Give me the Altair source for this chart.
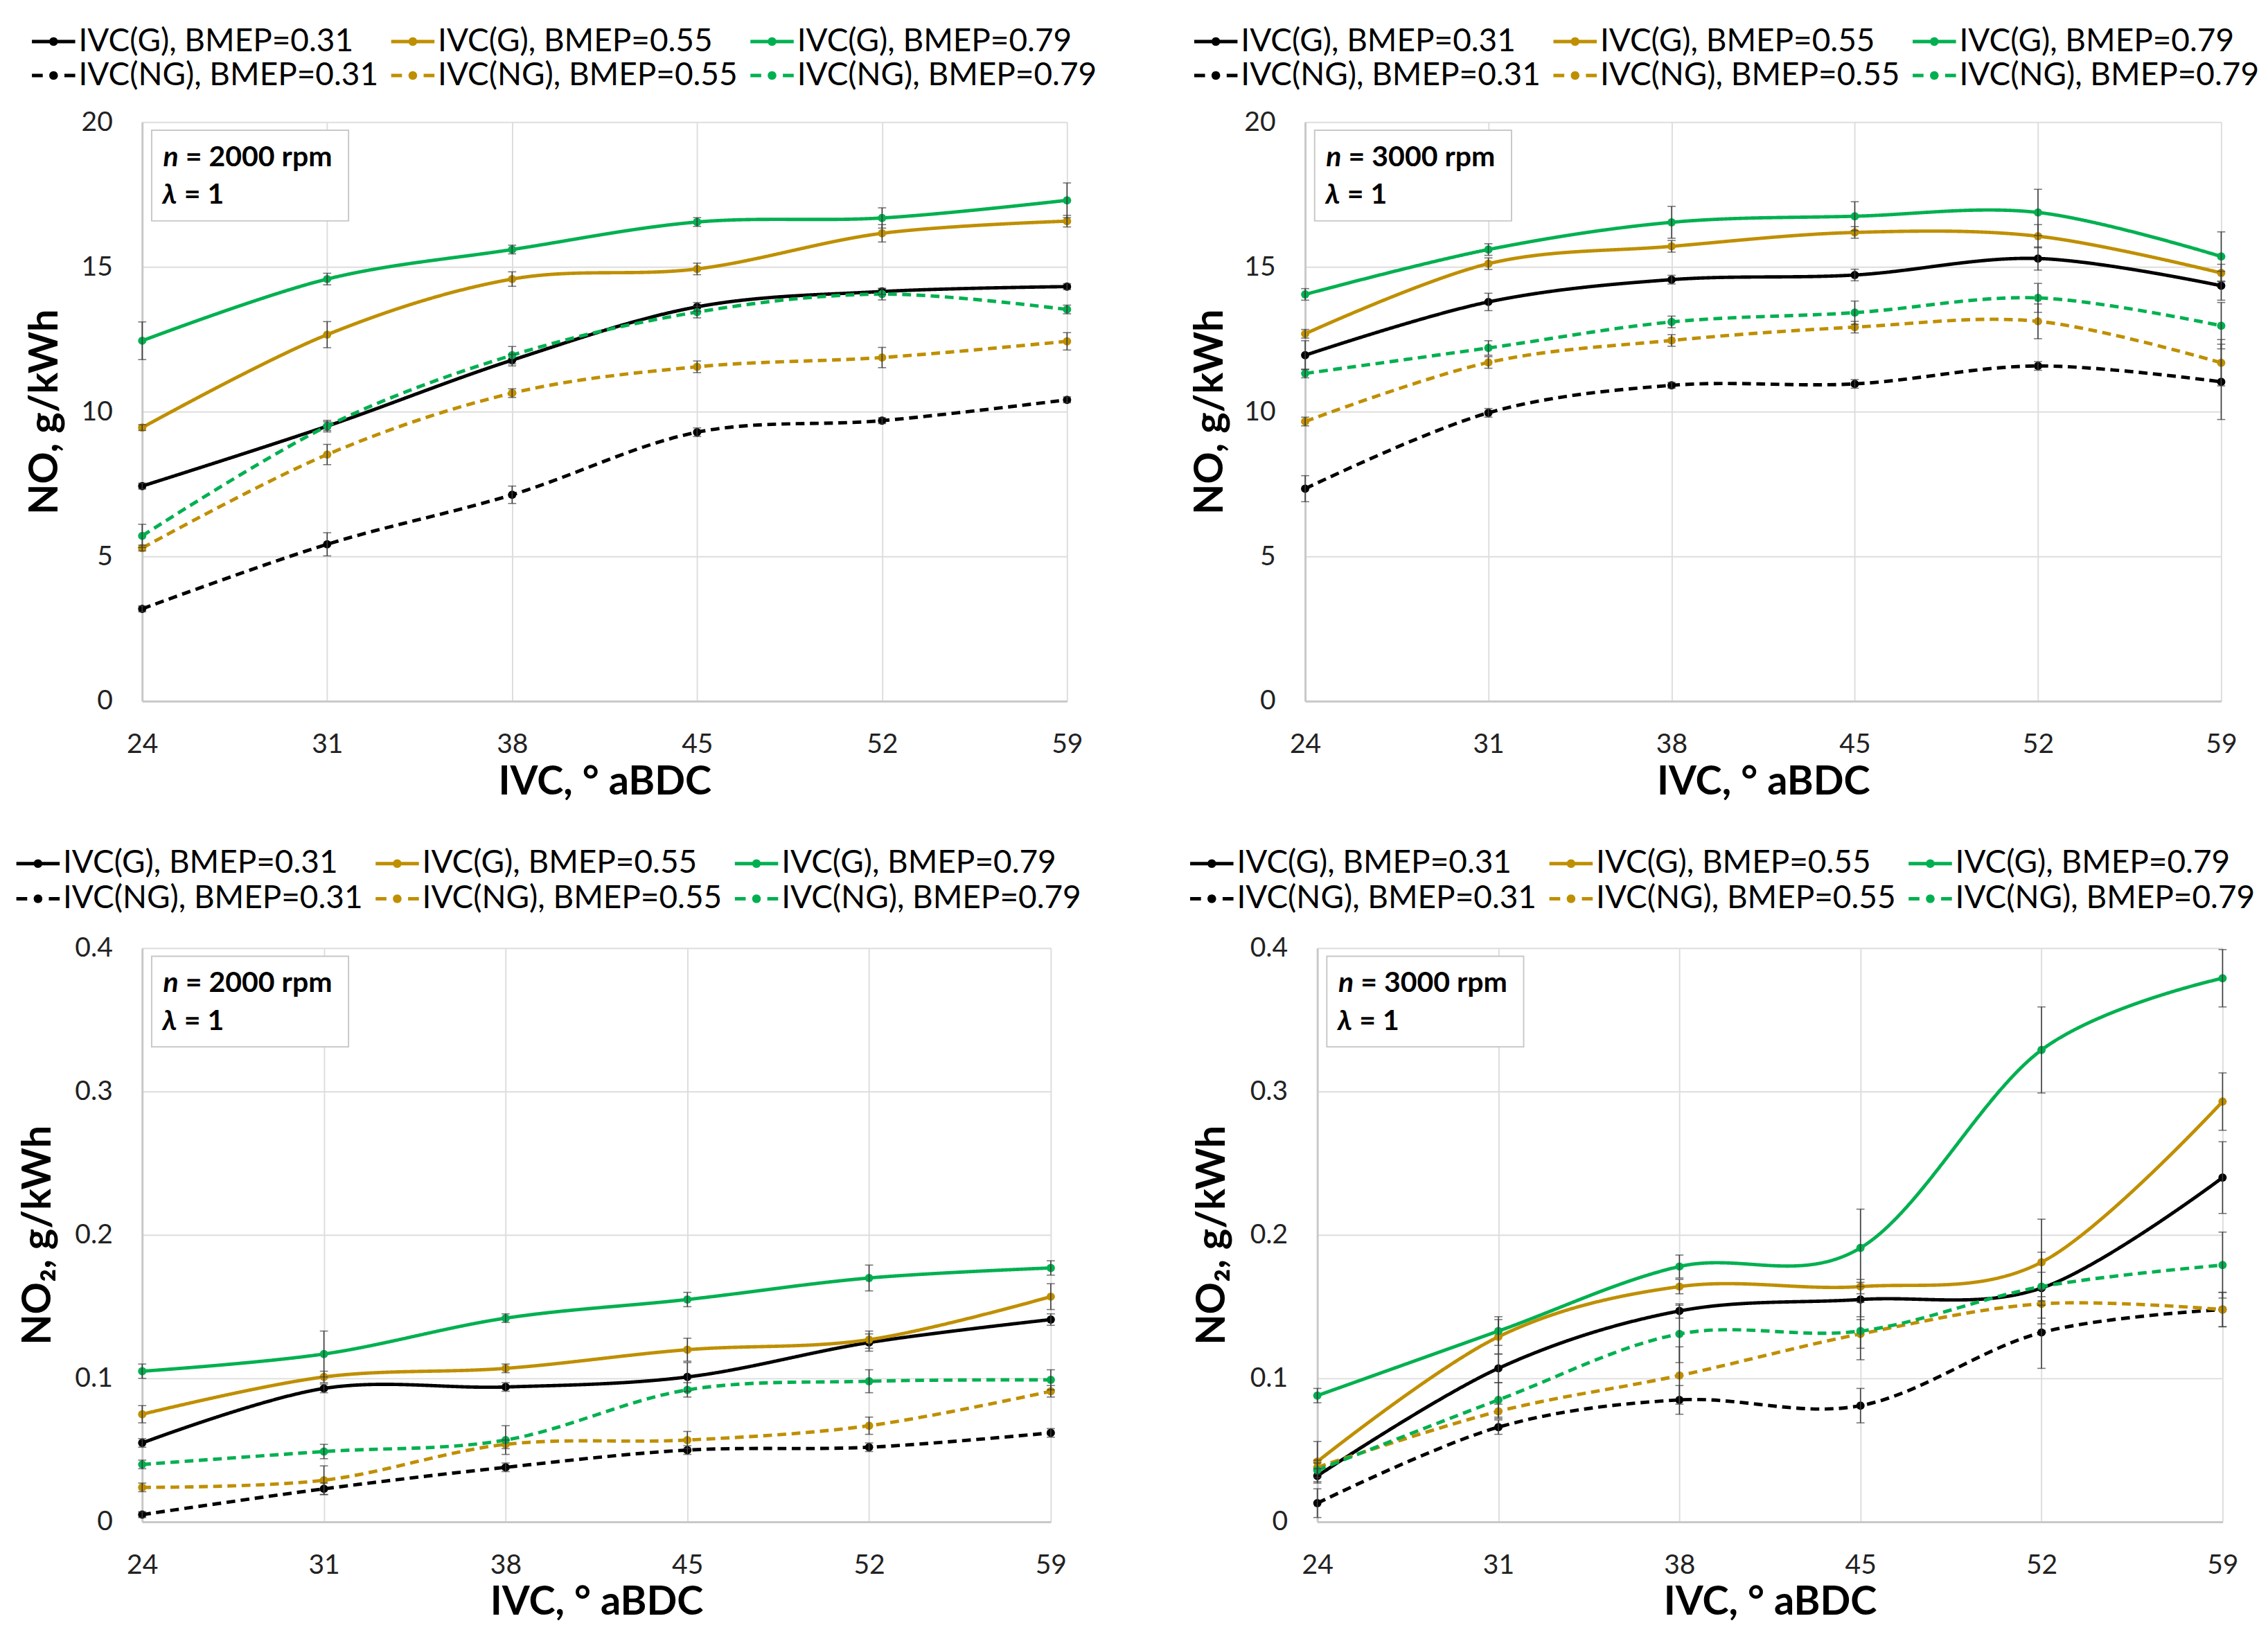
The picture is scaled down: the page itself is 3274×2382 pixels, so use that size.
import altair as alt
import pandas as pd

# ---------------- data ----------------
x_ivc = [24, 31, 38, 45, 52, 59]
series_names = [
    "IVC(G), BMEP=0.31", "IVC(G), BMEP=0.55", "IVC(G), BMEP=0.79",
    "IVC(NG), BMEP=0.31", "IVC(NG), BMEP=0.55", "IVC(NG), BMEP=0.79",
]
series_colors = ["#000000", "#BF8F00", "#00B050", "#000000", "#BF8F00", "#00B050"]
series_dashes = [[1, 0], [1, 0], [1, 0], [13, 8], [13, 8], [13, 8]]
legend_cols = [0, 1, 2, 0, 1, 2]
legend_rows = [0, 0, 0, 1, 1, 1]

# NO, n = 2000 rpm
no_2000_g031 = [7.43, 9.50, 11.78, 13.62, 14.15, 14.32]
no_2000_g055 = [9.45, 12.66, 14.58, 14.93, 16.16, 16.58]
no_2000_g079 = [12.45, 14.58, 15.60, 16.55, 16.69, 17.30]
no_2000_ng031 = [3.19, 5.42, 7.13, 9.29, 9.69, 10.41]
no_2000_ng055 = [5.29, 8.52, 10.64, 11.55, 11.87, 12.43]
no_2000_ng079 = [5.71, 9.50, 11.95, 13.44, 14.06, 13.53]
no_2000_err_g031 = [0.10, 0.15, 0.20, 0.15, 0.10, 0.10]
no_2000_err_g055 = [0.10, 0.45, 0.25, 0.20, 0.30, 0.20]
no_2000_err_g079 = [0.65, 0.20, 0.15, 0.15, 0.35, 0.60]
no_2000_err_ng031 = [0.10, 0.40, 0.30, 0.15, 0.10, 0.10]
no_2000_err_ng055 = [0.10, 0.35, 0.15, 0.20, 0.35, 0.30]
no_2000_err_ng079 = [0.40, 0.20, 0.30, 0.20, 0.20, 0.15]

# NO, n = 3000 rpm
no_3000_g031 = [11.95, 13.79, 14.56, 14.72, 15.29, 14.35]
no_3000_g055 = [12.69, 15.11, 15.71, 16.19, 16.06, 14.79]
no_3000_g079 = [14.05, 15.60, 16.54, 16.75, 16.88, 15.36]
no_3000_ng031 = [7.34, 9.96, 10.91, 10.96, 11.58, 11.03]
no_3000_ng055 = [9.66, 11.70, 12.46, 12.92, 13.12, 11.69]
no_3000_ng079 = [11.32, 12.20, 13.10, 13.42, 13.93, 12.97]
no_3000_err_g031 = [0.50, 0.30, 0.15, 0.20, 0.40, 0.50]
no_3000_err_g055 = [0.15, 0.20, 0.20, 0.20, 0.40, 0.30]
no_3000_err_g079 = [0.20, 0.20, 0.55, 0.50, 0.80, 0.85]
no_3000_err_ng031 = [0.45, 0.15, 0.10, 0.15, 0.15, 1.30]
no_3000_err_ng055 = [0.15, 0.20, 0.20, 0.20, 0.60, 0.80]
no_3000_err_ng079 = [0.15, 0.25, 0.20, 0.40, 0.50, 0.80]

# NO2, n = 2000 rpm
no2_2000_g031 = [0.055, 0.093, 0.094, 0.101, 0.125, 0.141]
no2_2000_g055 = [0.075, 0.101, 0.107, 0.120, 0.127, 0.157]
no2_2000_g079 = [0.105, 0.117, 0.142, 0.155, 0.170, 0.177]
no2_2000_ng031 = [0.005, 0.023, 0.038, 0.050, 0.052, 0.062]
no2_2000_ng055 = [0.024, 0.029, 0.054, 0.057, 0.067, 0.091]
no2_2000_ng079 = [0.040, 0.049, 0.057, 0.092, 0.098, 0.099]
no2_2000_err_g031 = [0.003, 0.003, 0.003, 0.010, 0.006, 0.004]
no2_2000_err_g055 = [0.006, 0.004, 0.003, 0.008, 0.006, 0.009]
no2_2000_err_g079 = [0.005, 0.016, 0.003, 0.005, 0.009, 0.005]
no2_2000_err_ng031 = [0.002, 0.004, 0.003, 0.003, 0.003, 0.003]
no2_2000_err_ng055 = [0.003, 0.010, 0.003, 0.006, 0.006, 0.004]
no2_2000_err_ng079 = [0.003, 0.005, 0.010, 0.005, 0.008, 0.007]

# NO2, n = 3000 rpm
no2_3000_g031 = [0.032, 0.107, 0.147, 0.155, 0.163, 0.240]
no2_3000_g055 = [0.042, 0.129, 0.164, 0.164, 0.181, 0.293]
no2_3000_g079 = [0.088, 0.133, 0.178, 0.191, 0.329, 0.379]
no2_3000_ng031 = [0.013, 0.066, 0.085, 0.081, 0.132, 0.148]
no2_3000_ng055 = [0.038, 0.077, 0.102, 0.131, 0.152, 0.148]
no2_3000_ng079 = [0.036, 0.085, 0.131, 0.133, 0.164, 0.179]
no2_3000_err_g031 = [0.005, 0.010, 0.005, 0.012, 0.025, 0.025]
no2_3000_err_g055 = [0.014, 0.012, 0.005, 0.005, 0.030, 0.020]
no2_3000_err_g079 = [0.005, 0.010, 0.008, 0.027, 0.030, 0.020]
no2_3000_err_ng031 = [0.010, 0.005, 0.010, 0.012, 0.025, 0.012]
no2_3000_err_ng055 = [0.005, 0.005, 0.020, 0.010, 0.010, 0.012]
no2_3000_err_ng079 = [0.005, 0.012, 0.020, 0.020, 0.010, 0.023]

no_ticks = [0, 5, 10, 15, 20]
no2_ticks = [0, 0.1, 0.2, 0.3, 0.4]
speeds = ["2000", "3000"]

# ---------------- style ----------------
FONT = "Lato"
GRID = "#DDDDDD"
DOMAIN = "#C8C8C8"
LEG_COL_W = 531

SOLID_PATH = ("M-1,-0.08H1V0.08H-1Z "
              "M0.2,0A0.2,0.2,0,1,1,-0.2,0A0.2,0.2,0,1,1,0.2,0Z")
DASH_PATH = ("M-1,-0.08H-0.5V0.08H-1Z M0.5,-0.08H1V0.08H0.5Z "
             "M0.2,0A0.2,0.2,0,1,1,-0.2,0A0.2,0.2,0,1,1,0.2,0Z")


def make_df(vals, errs):
    rows = []
    for name, v, e in zip(series_names, vals, errs):
        for xi, yi, ei in zip(x_ivc, v, e):
            rows.append({"series": name, "ivc": xi, "value": yi,
                         "lo": yi - ei, "hi": yi + ei})
    return pd.DataFrame(rows)


leg_df = pd.DataFrame({"series": series_names, "col": legend_cols, "row": legend_rows})


def panel(vals, errs, ytitle, yticks, speed, w, h, lx, ly0, ly1, tpad):
    df = make_df(vals, errs)
    base = alt.Chart(df)

    xscale = alt.Scale(domain=[24, 59], nice=False, zero=False)
    yscale = alt.Scale(domain=[yticks[0], yticks[-1]], nice=False)
    xaxis = alt.Axis(values=x_ivc, title="IVC, ° aBDC", grid=True, labelFlush=False)
    yaxis = alt.Axis(values=yticks, title=ytitle, format="~g", grid=True,
                     labelFlush=False, titlePadding=tpad)
    X = alt.X("ivc:Q", scale=xscale, axis=xaxis)

    cscale = alt.Scale(domain=series_names, range=series_colors)
    color = alt.Color("series:N", sort=series_names, scale=cscale, legend=None)
    dash = alt.StrokeDash("series:N", sort=series_names,
                          scale=alt.Scale(domain=series_names, range=series_dashes),
                          legend=None)

    lines = base.mark_line(interpolate="cardinal", strokeWidth=5).encode(
        x=X, y=alt.Y("value:Q", scale=yscale, axis=yaxis),
        color=color, strokeDash=dash, detail="series:N",
    )
    pts = base.mark_point(filled=True, size=150, opacity=1).encode(
        x=X, y=alt.Y("value:Q", scale=yscale, axis=yaxis), color=color,
    )
    err = base.mark_errorbar(ticks=True, size=12, thickness=1.6, color="#3A3A3A").encode(
        x=X, y=alt.Y("lo:Q", scale=yscale, axis=yaxis, title=ytitle), y2="hi:Q",
    )

    ann = alt.Chart(pd.DataFrame({"speed": [speed]}))
    box = ann.mark_rect(fill="white", stroke="#C8C8C8", strokeWidth=2).encode(
        x=alt.value(14), x2=alt.value(305), y=alt.value(12), y2=alt.value(146))
    t_n = ann.mark_text(font=FONT, fontSize=42, fontWeight="bold", fontStyle="italic",
                        align="left", baseline="middle", color="#000000").encode(
        x=alt.value(31), y=alt.value(52), text=alt.value("n"))
    t_rpm = ann.transform_calculate(lab="'= ' + datum.speed + ' rpm'").mark_text(
        font=FONT, fontSize=42, fontWeight="bold", align="left", baseline="middle",
        color="#000000").encode(x=alt.value(64), y=alt.value(52), text="lab:N")
    t_l = ann.mark_text(font=FONT, fontSize=42, fontWeight="bold", fontStyle="italic",
                        align="left", baseline="middle", color="#000000").encode(
        x=alt.value(30), y=alt.value(108), text=alt.value("λ"))
    t_1 = ann.mark_text(font=FONT, fontSize=42, fontWeight="bold", align="left",
                        baseline="middle", color="#000000").encode(
        x=alt.value(62), y=alt.value(108), text=alt.value("= 1"))

    data_layer = alt.layer(lines, pts, err, box, t_n, t_rpm, t_l, t_1)

    # legend drawn above the plot from the series list
    lbase = alt.Chart(leg_df)
    LX = alt.X("col:Q", axis=None,
               scale=alt.Scale(domain=[0, 2], range=[lx + 32, lx + 32 + 2 * LEG_COL_W]))
    LY = alt.Y("row:Q", axis=None, scale=alt.Scale(domain=[0, 1], range=[ly0, ly1]))
    sym_g = lbase.transform_filter("datum.row == 0").mark_point(
        shape=SOLID_PATH, filled=True, size=4096, opacity=1, strokeWidth=0).encode(
        x=LX, y=LY, color=color)
    sym_ng = lbase.transform_filter("datum.row == 1").mark_point(
        shape=DASH_PATH, filled=True, size=4096, opacity=1, strokeWidth=0).encode(
        x=LX, y=LY, color=color)
    labels = lbase.mark_text(font=FONT, fontSize=47, align="left", baseline="middle",
                             dx=37, color="#000000").encode(x=LX, y=LY, text="series:N")
    legend_layer = alt.layer(sym_g, sym_ng, labels)

    return alt.layer(data_layer, legend_layer).resolve_scale(
        x="independent", y="independent").properties(width=w, height=h)


tl = panel([no_2000_g031, no_2000_g055, no_2000_g079, no_2000_ng031, no_2000_ng055, no_2000_ng079],
           [no_2000_err_g031, no_2000_err_g055, no_2000_err_g079, no_2000_err_ng031, no_2000_err_ng055, no_2000_err_ng079],
           "NO, g/kWh", no_ticks, speeds[0], 1367, 856, -163, -119, -69, 23)
tr = panel([no_3000_g031, no_3000_g055, no_3000_g079, no_3000_ng031, no_3000_ng055, no_3000_ng079],
           [no_3000_err_g031, no_3000_err_g055, no_3000_err_g079, no_3000_err_ng031, no_3000_err_ng055, no_3000_err_ng079],
           "NO, g/kWh", no_ticks, speeds[1], 1354, 856, -164, -119, -69, 20)
bl = panel([no2_2000_g031, no2_2000_g055, no2_2000_g079, no2_2000_ng031, no2_2000_ng055, no2_2000_ng079],
           [no2_2000_err_g031, no2_2000_err_g055, no2_2000_err_g079, no2_2000_err_ng031, no2_2000_err_ng055, no2_2000_err_ng079],
           "NO₂, g/kWh", no2_ticks, speeds[0], 1343, 848, -186, -125, -73, 24)
br = panel([no2_3000_g031, no2_3000_g055, no2_3000_g079, no2_3000_ng031, no2_3000_ng055, no2_3000_ng079],
           [no2_3000_err_g031, no2_3000_err_g055, no2_3000_err_g079, no2_3000_err_ng031, no2_3000_err_ng055, no2_3000_err_ng079],
           "NO₂, g/kWh", no2_ticks, speeds[1], 1338, 848, -188, -125, -73, 26)

RES = dict(x="independent", y="independent", color="independent", strokeDash="independent")

chart = alt.concat(
    tl, tr, bl, br, columns=2, align="none",
    spacing={"row": 67, "column": 138},
).resolve_scale(**RES).properties(
    padding={"left": 16, "top": 1, "right": 5, "bottom": 5},
    background="white",
).configure_view(stroke=None).configure_axis(
    labelFont=FONT, labelFontSize=40, labelColor="#222222", labelPadding=44,
    titleFont=FONT, titleFontSize=59, titleFontWeight="bold", titleColor="#000000",
    ticks=False, tickSize=0, gridColor=GRID, gridWidth=2,
    domainColor=DOMAIN, domainWidth=3,
).configure_axisX(titlePadding=6, labelPadding=44)

chart.save("out.html", embed_options={"renderer": "svg", "actions": False})
